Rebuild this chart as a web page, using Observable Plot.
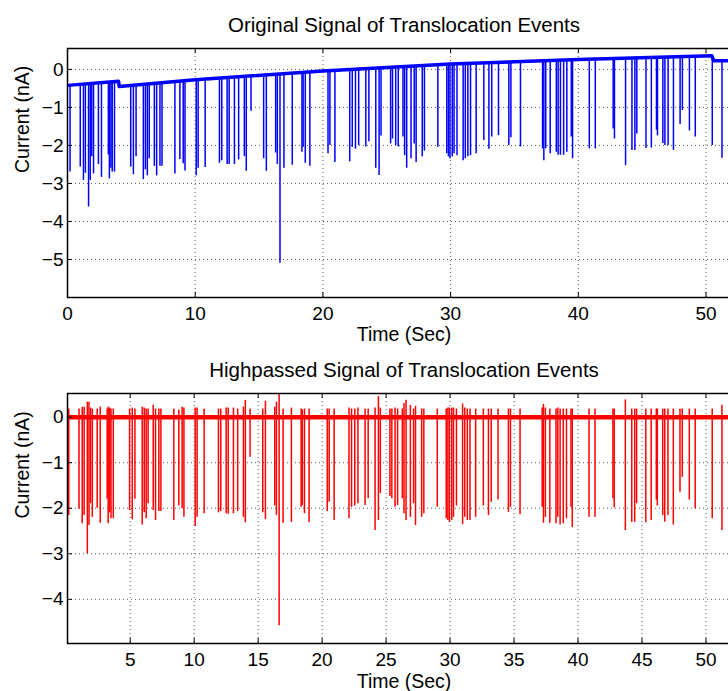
<!DOCTYPE html>
<html>
<head>
<meta charset="utf-8">
<script src="https://cdn.jsdelivr.net/npm/d3@7"></script>
<script src="https://cdn.jsdelivr.net/npm/@observablehq/plot@0.6"></script>
<style>
  html, body { margin: 0; padding: 0; background: #fff; overflow: hidden; }
  #wrap { width: 741px; }
  #wrap svg { display: block; max-width: none; }
</style>
</head>
<body>
<div id="wrap"></div>
<script>
// ---- Data ----
const topTitle = "Original Signal of Translocation Events";
const bottomTitle = "Highpassed Signal of Translocation Events";
const xLabel = "Time (Sec)";
const yLabel = "Current (nA)";

// Drifting baseline of the original signal (s, nA)
const baseTime    = [0, 4.0, 4.05, 10, 20, 30, 40, 50.45, 50.6, 52.7];
const baseCurrent = [-0.42, -0.31, -0.45, -0.27, -0.04, 0.14, 0.26, 0.36, 0.23, 0.22];

// Translocation events
const eventTime = [0.2,1.0,1.25,1.4,1.65,1.78,1.9,2.04,2.42,2.66,3.2,3.28,3.4,3.5,3.68,4.95,5.16,5.37,5.94,6.1,
  6.25,6.4,6.8,6.98,7.24,7.4,8.41,8.8,9.06,9.2,10.08,10.23,10.78,11.9,12.08,12.5,12.66,13.07,13.4,13.85,
  14.0,14.37,15.36,15.57,16.3,16.43,16.64,16.95,17.6,18.36,18.45,18.62,18.98,20.4,20.55,20.94,22.1,22.3,22.55,22.8,
  23.36,23.6,24.14,24.4,24.55,25.3,25.45,25.7,25.9,26.27,26.4,26.56,26.9,27.15,27.3,27.78,27.95,29.0,29.7,29.83,
  29.95,30.13,30.27,30.5,30.98,31.15,31.35,31.56,32.0,32.6,33.0,33.22,33.75,34.56,34.72,35.47,37.2,37.3,37.45,37.8,
  38.28,38.42,38.6,38.85,39.1,39.45,39.55,40.86,41.33,42.73,42.83,43.7,44.2,44.43,44.58,45.3,45.72,46.12,46.2,46.62,
  46.78,47.03,47.45,47.97,48.15,48.7,49.16,50.49,51.25];
const originalMin = [-2.70,-2.57,-2.92,-2.73,-3.62,-2.92,-2.30,-2.75,-2.50,-2.84,
  -2.25,-2.88,-2.60,-2.70,-2.70,-2.57,-2.77,-2.30,-2.90,-2.64,
  -2.80,-2.35,-2.55,-2.80,-2.55,-2.55,-2.75,-2.37,-2.48,-2.67,
  -2.80,-2.60,-2.58,-2.47,-2.40,-2.50,-2.50,-2.50,-2.38,-2.29,
  -2.68,-1.10,-2.35,-2.68,-2.20,-2.50,-5.10,-2.60,-2.52,-2.18,
  -2.05,-2.47,-2.55,-2.22,-2.00,-2.45,-2.43,-2.05,-2.10,-2.00,
  -2.04,-1.90,-2.60,-2.79,-1.75,-1.96,-1.83,-2.00,-2.04,-1.78,
  -2.27,-2.60,-2.35,-1.96,-2.45,-2.30,-2.15,-2.05,-2.22,-2.30,
  -2.35,-2.30,-2.22,-2.27,-2.40,-2.35,-2.30,-2.27,-2.22,-1.87,
  -2.10,-1.78,-1.74,-2.00,-1.80,-2.04,-2.09,-2.40,-2.09,-2.22,
  -2.18,-2.26,-2.26,-2.26,-2.18,-1.78,-2.35,-2.09,-2.09,-1.57,
  -1.83,-2.53,-2.13,-2.13,-1.70,-2.08,-2.07,-1.60,-1.75,-1.95,
  -2.00,-2.00,-2.13,-1.45,-1.08,-1.62,-1.78,-2.00,-2.34];
const highpassMin = [-2.16,-2.02,-2.34,-2.16,-3.00,-2.38,-1.90,-2.20,-2.00,-2.33,
  -1.80,-2.34,-2.10,-2.23,-2.23,-2.05,-2.25,-1.80,-2.37,-2.10,
  -2.23,-1.90,-2.05,-2.27,-2.07,-2.07,-2.27,-1.95,-2.01,-2.20,
  -2.40,-2.20,-2.12,-2.10,-2.07,-2.12,-2.13,-2.12,-2.07,-2.20,
  -2.32,-0.88,-2.10,-2.25,-1.95,-2.16,-4.58,-2.33,-2.31,-1.98,
  -1.94,-2.12,-2.32,-2.07,-1.87,-2.27,-2.23,-1.98,-1.95,-1.90,
  -1.94,-1.79,-2.49,-2.27,-1.68,-1.74,-1.79,-1.98,-1.94,-1.79,
  -2.12,-2.27,-2.20,-1.90,-2.38,-2.20,-2.12,-1.98,-2.23,-2.27,
  -2.31,-2.27,-2.20,-1.95,-2.36,-2.20,-2.27,-2.27,-2.20,-1.95,
  -2.16,-1.87,-1.82,-2.09,-1.98,-2.14,-1.98,-2.33,-2.20,-2.33,
  -2.34,-2.20,-2.37,-2.34,-2.23,-1.98,-2.42,-2.20,-2.20,-1.79,
  -1.99,-2.49,-2.31,-2.31,-1.90,-2.32,-2.27,-1.82,-1.95,-2.16,
  -2.31,-2.16,-2.37,-1.65,-1.32,-1.82,-2.01,-2.23,-2.49];
const highpassPeak = [0.18,0.18,0.22,0.22,0.33,0.33,0.20,0.18,0.18,0.22,
  0.18,0.22,0.20,0.18,0.18,0.18,0.20,0.18,0.22,0.20,
  0.18,0.18,0.26,0.18,0.18,0.18,0.18,0.16,0.22,0.20,
  0.20,0.20,0.18,0.18,0.18,0.20,0.20,0.20,0.18,0.22,
  0.37,0.18,0.18,0.35,0.22,0.33,0.51,0.18,0.20,0.18,
  0.16,0.18,0.18,0.18,0.18,0.18,0.20,0.18,0.18,0.20,
  0.18,0.18,0.20,0.45,0.20,0.18,0.18,0.20,0.18,0.18,
  0.30,0.37,0.26,0.18,0.24,0.18,0.18,0.18,0.18,0.20,
  0.20,0.20,0.20,0.18,0.29,0.20,0.18,0.18,0.18,0.18,
  0.18,0.18,0.18,0.18,0.18,0.18,0.20,0.28,0.20,0.18,
  0.18,0.20,0.18,0.18,0.18,0.18,0.18,0.18,0.18,0.18,
  0.18,0.38,0.18,0.18,0.18,0.18,0.18,0.18,0.18,0.18,
  0.18,0.18,0.18,0.18,0.18,0.18,0.18,0.18,0.26];

// Axis ticks
const topXTicks = [0, 10, 20, 30, 40, 50];
const topYTicks = [0, -1, -2, -3, -4, -5];
const bottomXTicks = [5, 10, 15, 20, 25, 30, 35, 40, 45, 50];
const bottomYTicks = [0, -1, -2, -3, -4];

// ---- Tables built from the arrays ----
const baseline = baseTime.map((t, i) => ({t, v: baseCurrent[i]}));
const baseAt = d3.scaleLinear(baseTime, baseCurrent);
const events = eventTime.map((t, i) => ({
  t, base: baseAt(t), omin: originalMin[i], hmin: highpassMin[i], hpeak: highpassPeak[i]
}));

const FONT = "'Liberation Sans', Arial, Helvetica, sans-serif";
const W = 741, H1 = 345, H2 = 346, ML = 67, MR = 1, MT = 48, MB = 48;
const fmt = d => d < 0 ? "\u2212" + Math.abs(d) : String(d);

function panel({height, xDomain, yDomain, xTicks, yTicks, title, dataMarks, labelDy}) {
  const fh = height - MT - MB;
  const grid = {stroke: "#000", strokeOpacity: 0.65, strokeDasharray: "1,3", strokeWidth: 1};
  return Plot.plot({
    width: W, height,
    marginLeft: ML, marginRight: MR, marginTop: MT, marginBottom: MB,
    x: {domain: xDomain},
    y: {domain: yDomain},
    style: {fontFamily: FONT, fontSize: "19px", color: "#000", background: "#fff", maxWidth: "none"},
    marks: [
      Plot.gridX(xTicks, grid),
      Plot.gridY(yTicks, grid),
      ...dataMarks,
      Plot.tickX(xTicks, {x: d => d, insetTop: fh - 5, stroke: "#000", strokeWidth: 1}),
      Plot.tickX(xTicks, {x: d => d, insetBottom: fh - 5, stroke: "#000", strokeWidth: 1}),
      Plot.tickY(yTicks, {y: d => d, insetRight: (W - ML - MR) - 5, stroke: "#000", strokeWidth: 1}),
      Plot.axisX(xTicks, {tickSize: 0, tickPadding: 9, fontSize: 19, label: null, tickFormat: fmt}),
      Plot.axisY(yTicks, {tickSize: 0, tickPadding: 4, fontSize: 19, label: null, tickFormat: fmt}),
      Plot.frame({stroke: "#000", strokeWidth: 1.5}),
      Plot.text([title], {frameAnchor: "top", lineAnchor: "middle", dy: -23, fontSize: 20.5, text: d => d}),
      Plot.text([xLabel], {frameAnchor: "bottom", lineAnchor: "middle", dy: labelDy, fontSize: 19.5, text: d => d}),
      Plot.text([yLabel], {frameAnchor: "left", lineAnchor: "middle", dx: -45, rotate: -90, fontSize: 19.5, text: d => d})
    ]
  });
}

const topChart = panel({
  height: H1,
  xDomain: [0, 52.7],
  yDomain: [-6, 0.55],
  xTicks: topXTicks, yTicks: topYTicks, title: topTitle, labelDy: 37,
  dataMarks: [
    Plot.line(baseline, {x: "t", y: "v", stroke: "#0000ff", strokeWidth: 3.5, clip: true}),
    Plot.ruleX(events, {x: "t", y1: "omin", y2: "base", stroke: "#0000ff", strokeWidth: 1.5, clip: true})
  ]
});

const bottomChart = panel({
  height: H2,
  xDomain: [0.1, 52.7],
  yDomain: [-4.97, 0.52],
  xTicks: bottomXTicks, yTicks: bottomYTicks, title: bottomTitle, labelDy: 38.5,
  dataMarks: [
    Plot.ruleY([0], {stroke: "#ff0000", strokeWidth: 4.5, clip: true}),
    Plot.ruleX(events, {x: "t", y1: "hmin", y2: "hpeak", stroke: "#ff0000", strokeWidth: 1.5, clip: true})
  ]
});

const wrap = document.getElementById("wrap");
wrap.appendChild(topChart);
wrap.appendChild(bottomChart);
</script>
</body>
</html>
